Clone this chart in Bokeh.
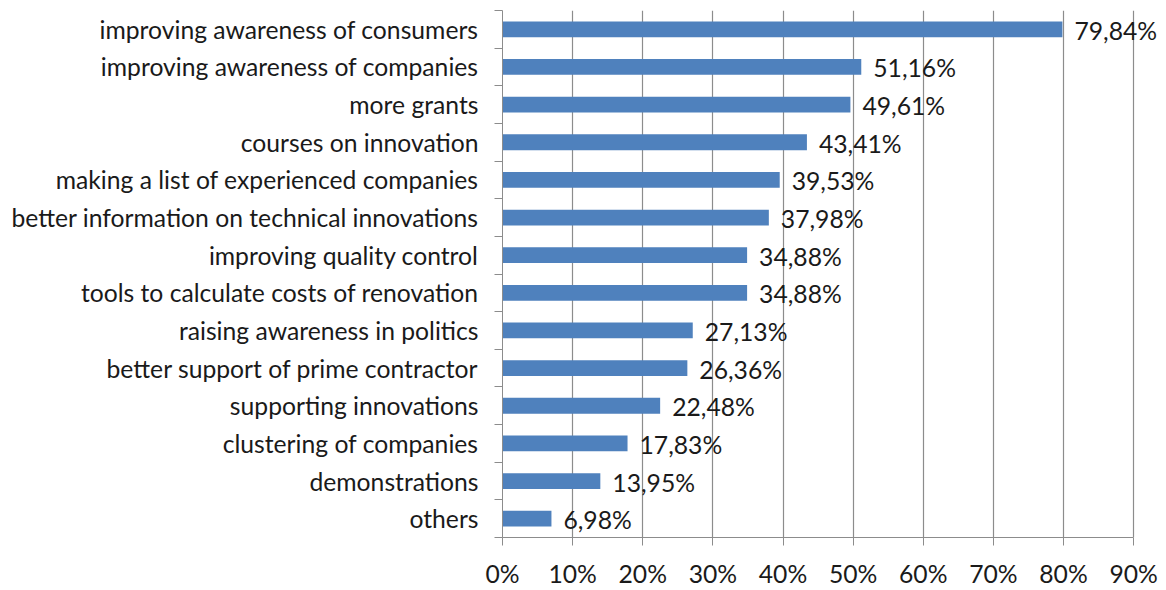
from bokeh.plotting import figure
from bokeh.models import FixedTicker, ColumnDataSource, Range1d
from bokeh.core.properties import value
from bokeh.embed import file_html
from bokeh.resources import INLINE

categories = [
    "improving awareness of consumers",
    "improving awareness of companies",
    "more grants",
    "courses on innovation",
    "making a list of experienced companies",
    "better information on technical innovations",
    "improving quality control",
    "tools to calculate costs of renovation",
    "raising awareness in politics",
    "better support of prime contractor",
    "supporting innovations",
    "clustering of companies",
    "demonstrations",
    "others",
]
values = [79.84, 51.16, 49.61, 43.41, 39.53, 37.98, 34.88, 34.88, 27.13, 26.36, 22.48, 17.83, 13.95, 6.98]
x_ticks = [0, 10, 20, 30, 40, 50, 60, 70, 80, 90]
x_tick_labels = ["0%", "10%", "20%", "30%", "40%", "50%", "60%", "70%", "80%", "90%"]

FONT = "Lato"
FS = "24.7px"
GRAY = "#8c8c8c"
TXT = "#1a1a1a"

n = len(categories)
ypos = [n - i - 0.5 for i in range(n)]
labels = [f"{v:.2f}".replace(".", ",") + "%" for v in values]
src = ColumnDataSource(dict(y=ypos, v=values, lab=labels))

p = figure(width=1166, height=590, output_backend="svg", toolbar_location=None,
           x_range=Range1d(0, 94.4), y_range=Range1d(0, n),
           min_border_left=502, min_border_right=2, min_border_top=10, min_border_bottom=45)
p.outline_line_color = None
p.background_fill_color = "white"
p.border_fill_color = "white"

p.hbar(y="y", right="v", left=0, height=0.42, source=src, fill_color="#4F81BD", line_color=None)
p.text(x="v", y="y", text="lab", source=src, x_offset=12, y_offset=1, text_baseline="middle",
       text_align="left", text_font=value(FONT), text_font_size=FS, text_color=TXT)

# x axis
p.xaxis.ticker = FixedTicker(ticks=x_ticks)
p.xaxis.major_label_overrides = {t: l for t, l in zip(x_ticks, x_tick_labels)}
p.xaxis.bounds = (0, 90)
p.xaxis.axis_line_color = GRAY
p.xaxis.major_tick_line_color = GRAY
p.xaxis.major_tick_out = 8
p.xaxis.major_tick_in = 0
p.xaxis.minor_tick_line_color = None
p.xaxis.major_label_text_font = FONT
p.xaxis.major_label_text_font_size = FS
p.xaxis.major_label_text_color = TXT
p.xaxis.major_label_standoff = 13

# y axis
p.yaxis.ticker = FixedTicker(ticks=ypos, minor_ticks=list(range(n + 1)))
p.yaxis.major_label_overrides = {y: c for y, c in zip(ypos, categories)}
p.yaxis.axis_line_color = GRAY
p.yaxis.major_tick_line_color = None
p.yaxis.major_tick_out = 0
p.yaxis.major_tick_in = 0
p.yaxis.minor_tick_line_color = GRAY
p.yaxis.minor_tick_out = 8
p.yaxis.minor_tick_in = 0
p.yaxis.major_label_text_font = FONT
p.yaxis.major_label_text_font_size = FS
p.yaxis.major_label_text_color = TXT
p.yaxis.major_label_standoff = 16

p.xgrid.ticker = FixedTicker(ticks=x_ticks)
p.xgrid.grid_line_color = GRAY
p.xgrid.grid_line_width = 1.2
p.ygrid.grid_line_color = None

open("out.html", "w").write(file_html(p, INLINE))
